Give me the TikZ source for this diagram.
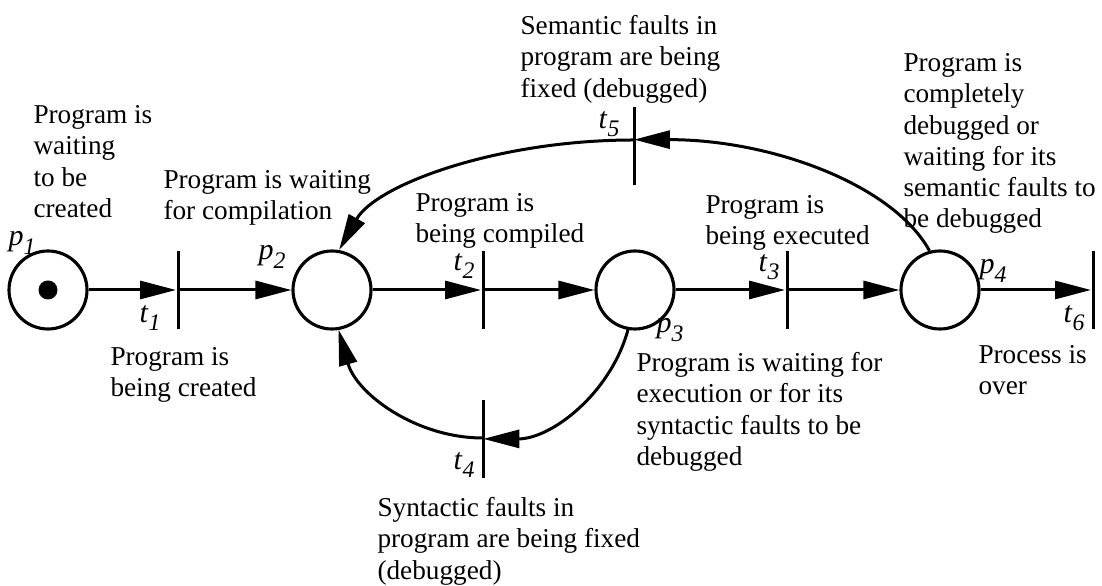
\documentclass[tikz,border=0pt]{standalone}
\usepackage{fontspec}
\setmainfont{Liberation Serif}
\usetikzlibrary{arrows.meta}

% place / transition names: italic letter with a lowered italic index
\newcommand{\pnname}[2]{\textit{#1}\raisebox{-0.28em}{\fontsize{9.5}{10}\selectfont\textit{#2}}}

\tikzset{
  place/.style={circle, draw, line width=1.25pt, minimum size=31.2pt, inner sep=0pt},
  token/.style={circle, fill, minimum size=7.6pt, inner sep=0pt},
  bar/.style={rectangle, fill, minimum width=1.2pt, minimum height=31.2pt, inner sep=0pt},
  arr/.style={line width=1.2pt, -{Triangle[length=14.4pt, width=7.2pt]}},
  lbl/.style={anchor=north west, align=left, inner sep=0pt,
              font=\fontsize{10.9}{12.5}\selectfont},
  pname/.style={inner sep=0pt, font=\fontsize{12}{13}\selectfont},
}

\begin{document}
\begin{tikzpicture}[x=0.4pt, y=0.4pt]
\useasboundingbox (0,0) rectangle (1102,586);

% places
\node[place] (p1) at (48,296) {};
\node[token] (tok) at (48,296) {};
\node[place] (p2) at (332,296) {};
\node[place] (p3) at (635,296) {};
\node[place] (p4) at (940,296) {};

% transitions
\node[bar] (t1) at (178,296) {};
\node[bar] (t2) at (483,296) {};
\node[bar] (t3) at (787,296) {};
\node[bar] (t6) at (1093,296) {};
\node[bar] (t5) at (634,440) {};
\node[bar] (t4) at (483,146.5) {};

% points where the loop arcs cross their transitions
\coordinate (t5x) at (634,446);
\coordinate (t4x) at (483,148);

% main chain
\draw[arr] (p1) -- (t1);
\draw[arr] (t1) -- (p2);
\draw[arr] (p2) -- (t2);
\draw[arr] (t2) -- (p3);
\draw[arr] (p3) -- (t3);
\draw[arr] (t3) -- (p4);
\draw[arr] (p4) -- (t6);

% semantic-fault loop (upper)
\draw[arr] (p4.105) arc[start angle=15, end angle=90, x radius=122.4pt, y radius=60pt];
\draw[arr] (t5x) arc[start angle=90, end angle=164.5, x radius=122.4pt, y radius=60pt];

% syntactic-fault loop (lower)
\draw[arr] (p3.260) arc[start angle=-15.3, end angle=-90, x radius=60pt, y radius=59.2pt];
\draw[arr] (t4x) arc[start angle=-90, end angle=-164.5, x radius=60pt, y radius=59.2pt];

% names
\node[pname] (lp1) at (22,343) {\pnname{p}{1}};
\node[pname] (lp2) at (272,329) {\pnname{p}{2}};
\node[pname] (lp3) at (670,256) {\pnname{p}{3}};
\node[pname] (lp4) at (993,315) {\pnname{p}{4}};
\node[pname] (lt1) at (150,268) {\pnname{t}{1}};
\node[pname] (lt2) at (464,320) {\pnname{t}{2}};
\node[pname] (lt3) at (769,319) {\pnname{t}{3}};
\node[pname] (lt4) at (464,121) {\pnname{t}{4}};
\node[pname] (lt5) at (609,462) {\pnname{t}{5}};
\node[pname] (lt6) at (1074,268) {\pnname{t}{6}};

% descriptions
\node[lbl] (dA) at (33,481) {Program is\\waiting\\to be\\created};
\node[lbl] (dB) at (163,416) {Program is waiting\\for compilation};
\node[lbl] (dC) at (110,239) {Program is\\being created};
\node[lbl] (dD) at (520,571) {Semantic faults in\\program are being\\fixed (debugged)};
\node[lbl] (dE) at (415,393) {Program is\\being compiled};
\node[lbl] (dF) at (705,391) {Program is\\being executed};
\node[lbl] (dG) at (903,533) {Program is\\completely\\debugged or\\waiting for its\\semantic faults to\\be debugged};
\node[lbl] (dH) at (978,241) {Process is\\over};
\node[lbl] (dI) at (636,234) {Program is waiting for\\execution or for its\\syntactic faults to be\\debugged};
\node[lbl] (dJ) at (377,89) {Syntactic faults in\\program are being fixed\\(debugged)};
\end{tikzpicture}
\end{document}
